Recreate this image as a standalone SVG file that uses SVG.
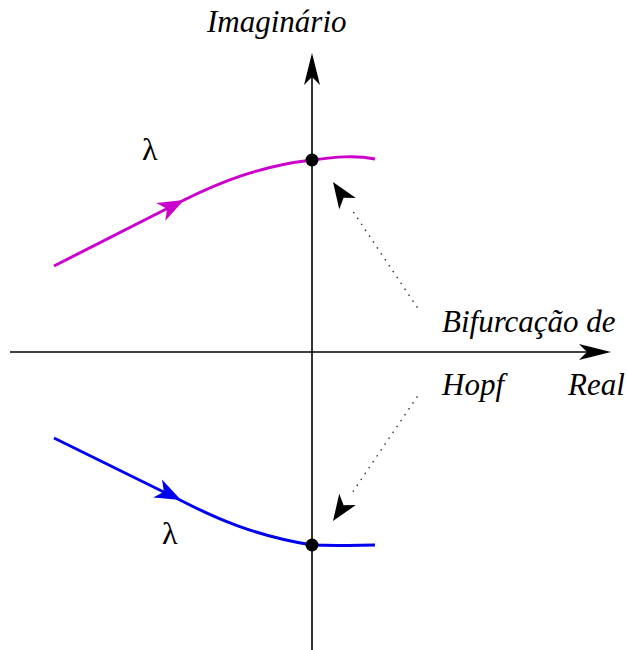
<svg xmlns="http://www.w3.org/2000/svg" width="627" height="650" viewBox="0 0 627 650">
<rect width="627" height="650" fill="#fff"/>
<defs>
<path id="bigHead" d="M0,0 L-32,-8 L-24,0 L-32,8 Z"/>
<path id="head" d="M0,0 L-26,-10 L-19,0 L-26,10 Z"/>
</defs>
<text x="207" y="32" font-family="Liberation Serif" font-style="italic" font-size="31">Imaginário</text>
<text x="442" y="332" font-family="Liberation Serif" font-style="italic" font-size="31">Bifurcação de</text>
<text x="442" y="395" font-family="Liberation Serif" font-style="italic" font-size="31">Hopf</text>
<text x="568" y="395" font-family="Liberation Serif" font-style="italic" font-size="31">Real</text>
<text x="142" y="160" font-family="Liberation Serif" font-size="32">λ</text>
<text x="162" y="544" font-family="Liberation Serif" font-size="32">λ</text>
<g id="axes" stroke="#000" stroke-width="1.6" fill="none">
<line x1="312" y1="650" x2="312" y2="70"/>
<use href="#bigHead" fill="#000" stroke="none" transform="translate(312,53) rotate(-90)"/>
<line x1="10" y1="352" x2="595" y2="352"/>
<use href="#bigHead" fill="#000" stroke="none" transform="translate(611,352)"/>
</g>
<g id="branch-upper">
<path d="M54,266 L182,201 C220,182 260,166 312,160 C335,157 355,155 375,159" stroke="#cc00cc" stroke-width="3" fill="none"/>
<use href="#head" fill="#cc00cc" transform="translate(184,200) rotate(-27)"/>
<circle cx="312" cy="160" r="6.5" fill="#000"/>
</g>
<g id="branch-lower">
<path d="M54,438 L180,500 C215,518 255,536 312,545 C340,546 360,545 375,545" stroke="#0000ee" stroke-width="3" fill="none"/>
<use href="#head" fill="#0000ee" transform="translate(181,500) rotate(26)"/>
<circle cx="312" cy="545" r="6.5" fill="#000"/>
</g>
<g id="connectors">
<path d="M417,307 L350,207" stroke="#333" stroke-width="1.6" stroke-dasharray="0.1 7" stroke-linecap="round" fill="none"/>
<use href="#head" fill="#000" transform="translate(333,182) rotate(-124)"/>
<path d="M417,397 L350,496" stroke="#333" stroke-width="1.6" stroke-dasharray="0.1 7" stroke-linecap="round" fill="none"/>
<use href="#head" fill="#000" transform="translate(333,521) rotate(124)"/>
</g>
</svg>
